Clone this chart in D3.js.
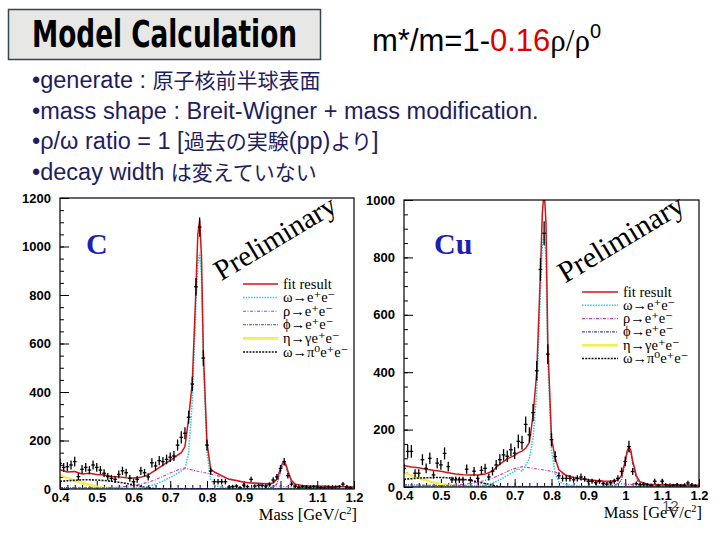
<!DOCTYPE html>
<html><head><meta charset="utf-8">
<script src="https://cdn.jsdelivr.net/npm/d3@7"></script>
<style>body{margin:0;background:#fff} svg{display:block}</style>
</head><body><svg id="c" width="720" height="540"></svg>
<script>
// ---------- data ----------
const massBins = [0.40,0.41,0.42,0.43,0.44,0.45,0.46,0.47,0.48,0.49,
 0.50,0.51,0.52,0.53,0.54,0.55,0.56,0.57,0.58,0.59,
 0.60,0.61,0.62,0.63,0.64,0.65,0.66,0.67,0.68,0.69,
 0.70,0.71,0.72,0.73,0.74,0.75,0.76,0.77,0.78,0.79,
 0.80,0.81,0.82,0.83,0.84,0.85,0.86,0.87,0.88,0.89,
 0.90,0.91,0.92,0.93,0.94,0.95,0.96,0.97,0.98,0.99,
 1.00,1.01,1.02,1.03,1.04,1.05,1.06,1.07,1.08,1.09,
 1.10,1.11,1.12,1.13,1.14,1.15,1.16,1.17,1.18,1.19];

const dataC = [106,89,92,99,113,51,81,89,78,99,
 89,78,65,51,44,40,60,75,67,44,
 30,40,75,67,50,108,95,117,113,122,
 131,136,181,213,230,296,433,834,1080,540,
 181,74,30,30,30,30,8,10,12,5,
 16,10,40,12,15,14,12,18,37,50,
 85,113,55,20,12,8,10,8,6,10,
 8,6,5,8,6,8,10,20,8,5];
const errC = [20,18,18,19,20,15,18,18,17,19,
 18,17,16,15,14,14,16,17,16,14,
 13,14,17,16,15,19,18,19,19,20,
 20,21,23,25,25,27,30,36,40,32,
 22,15,11,11,11,11,8,8,8,7,
 9,8,11,8,8,8,8,9,11,12,
 14,15,12,9,8,7,7,7,6,7,
 7,6,6,7,6,7,7,9,7,6];

const dataCu = [65,124,124,48,48,95,65,100,42,83,
 77,117,71,25,25,25,25,62,25,55,
 30,58,65,35,55,77,95,112,107,130,
 118,159,155,218,182,259,405,758,884,463,
 165,106,39,30,30,30,25,30,35,28,
 20,20,15,20,12,10,15,20,30,54,
 89,141,54,12,8,10,8,6,20,6,
 20,8,5,6,8,5,6,14,7,5];
const errCu = [17,22,22,14,14,19,17,20,13,18,
 17,21,17,11,11,11,11,16,11,15,
 12,15,16,12,15,17,19,20,20,22,
 21,24,24,28,26,30,34,40,42,34,
 24,19,12,11,11,11,10,11,12,10,
 9,9,8,9,7,7,8,9,11,14,
 17,20,12,7,6,7,6,5,9,5,
 9,6,5,5,6,5,5,8,6,5];

const fitMass = [0.40,0.42,0.44,0.46,0.48,0.50,0.52,0.54,0.56,0.58,0.60,0.62,0.64,0.66,0.68,0.70,
 0.71,0.72,0.73,0.74,0.75,0.76,0.77,
 0.775,0.78,0.785,0.79,
 0.80,0.81,0.82,
 0.84,0.86,0.88,0.90,0.92,0.94,0.96,0.98,
 0.99,1.00,1.005,1.01,1.015,1.02,1.03,1.04,
 1.06,1.08,1.10,1.12,1.14,1.16,1.18,1.20];

const fitC = [80,70,72,62,65,60,58,52,50,46,45,48,58,78,98,118,
 128,140,150,175,290,440,830,
 1050,1109,960,570,
 190,82,70,
 55,40,35,28,25,24,22,25,
 40,85,105,113,100,75,35,20,
 14,12,12,11,10,10,9,8];
const omegaC = [0,0,0,0,0,0,0,0,1,2,3,5,10,20,33,48,
 56,65,75,85,150,360,760,
 930,975,880,520,
 150,40,15,
 7,4,3,2,2,1,1,1,
 1,1,1,1,1,1,0,0,
 0,0,0,0,0,0,0,0];
const rhoC = [2,2,2,3,3,4,5,6,8,11,15,20,28,38,52,66,
 72,78,83,86,82,78,75,
 73,72,70,68,
 65,62,58,
 50,42,35,29,24,20,16,13,
 12,11,10,10,9,9,8,7,
 6,5,4,4,3,3,2,2];
const phiC = [6,6,5,5,5,4,4,4,3,3,3,3,2,2,2,2,
 2,2,2,2,2,2,2,
 2,2,2,2,
 2,2,2,
 2,2,2,2,2,3,4,8,
 20,70,95,105,92,65,25,8,
 3,2,1,1,1,1,1,1];
const etaC = [58,45,34,25,17,10,5,2,0,0,0,0,0,0,0,0,
 0,0,0,0,0,0,0,
 0,0,0,0,
 0,0,0,
 0,0,0,0,0,0,0,0,
 0,0,0,0,0,0,0,0,
 0,0,0,0,0,0,0,0];
const dalitzC = [32,34,36,38,38,37,35,32,28,23,17,11,5,1,0,0,
 0,0,0,0,0,0,0,
 0,0,0,0,
 0,0,0,
 0,0,0,0,0,0,0,0,
 0,0,0,0,0,0,0,0,
 0,0,0,0,0,0,0,0];

const fitCu = [75,70,67,62,58,55,50,45,43,42,42,45,55,80,98,110,
 120,125,135,155,250,400,750,
 950,1040,920,500,
 170,100,60,
 40,33,28,25,23,21,20,24,
 40,90,125,140,128,92,40,18,
 10,9,8,8,7,7,6,6];
const omegaCu = [0,0,0,0,0,0,0,0,1,2,4,7,14,25,40,55,
 64,55,75,100,170,330,680,
 840,885,800,440,
 130,45,18,
 8,5,3,2,2,1,1,1,
 1,1,1,1,1,1,0,0,
 0,0,0,0,0,0,0,0];
const rhoCu = [3,3,3,4,4,5,6,7,9,12,17,23,31,42,54,64,
 68,70,69,67,65,63,61,
 60,59,58,57,
 54,51,48,
 42,36,30,25,21,17,14,12,
 11,10,10,9,9,8,8,7,
 6,5,4,4,3,3,2,2];
const phiCu = [8,7,7,6,6,5,5,4,4,3,3,3,2,2,2,2,
 2,2,2,2,2,2,2,
 2,2,2,2,
 2,2,2,
 2,2,2,2,2,3,4,9,
 25,85,118,130,118,82,30,9,
 3,2,1,1,1,1,1,1];
const etaCu = [50,40,31,23,16,10,5,2,0,0,0,0,0,0,0,0,
 0,0,0,0,0,0,0,
 0,0,0,0,
 0,0,0,
 0,0,0,0,0,0,0,0,
 0,0,0,0,0,0,0,0,
 0,0,0,0,0,0,0,0];
const dalitzCu = [27,29,31,32,33,33,32,30,27,23,18,12,6,1,0,0,
 0,0,0,0,0,0,0,
 0,0,0,0,
 0,0,0,
 0,0,0,0,0,0,0,0,
 0,0,0,0,0,0,0,0,
 0,0,0,0,0,0,0,0];

const xTicks = [0.4,0.5,0.6,0.7,0.8,0.9,1.0,1.1,1.2];
const xTickLabels = ["0.4","0.5","0.6","0.7","0.8","0.9","1","1.1","1.2"];
const yTicksC = [0,200,400,600,800,1000,1200];
const yTicksCu = [0,200,400,600,800,1000];

const bullets = [
  "•generate : 原子核前半球表面",
  "•mass shape : Breit-Wigner + mass modification.",
  "•ρ/ω ratio = 1 [過去の実験(pp)より]",
  "•decay width は変えていない"
];
const legendLabels = ["fit result","ω→e⁺e⁻","ρ→e⁺e⁻","ϕ→e⁺e⁻","η→γe⁺e⁻","ω→π⁰e⁺e⁻"];
const legendKeys = ["fit","omega","rho","phi","eta","dalitz"];

// ---------- drawing ----------
const svg = d3.select("#c");
const SERIF = "'Liberation Serif','DejaVu Serif',serif";
const SANS = "'Liberation Sans',Arial,sans-serif";

// title box
svg.append("rect").attr("x",8.5).attr("y",9.5).attr("width",312).attr("height",50)
  .attr("fill","#e7e7e5").attr("stroke","#34465a").attr("stroke-width",1.5);
svg.append("text").attr("x",32).attr("y",47)
  .attr("font-family","'DejaVu Sans Condensed','DejaVu Sans',sans-serif")
  .attr("font-weight","bold").attr("font-size",37)
  .attr("textLength",265).attr("lengthAdjust","spacingAndGlyphs")
  .attr("fill","#000").text("Model Calculation");

const f = svg.append("text").attr("x",372).attr("y",51).attr("font-family",SANS).attr("font-size",31).attr("fill","#000");
f.append("tspan").text("m*/m=1-");
f.append("tspan").attr("fill","#dd0000").text("0.16");
f.append("tspan").attr("font-family",SERIF).text("ρ/ρ");
f.append("tspan").attr("font-size",20).attr("dy",-13).text("0");

// bullets: Latin runs slightly larger than CJK runs (as on the slide)
const cjk = /([\u3000-\u30ff\u4e00-\u9fff]+)/;
svg.append("g").selectAll("text").data(bullets).join("text")
  .attr("x",32).attr("y",(d,i)=>88+i*30.5)
  .attr("font-family","'Liberation Sans','Noto Sans CJK JP',sans-serif")
  .attr("fill","#1e1e5e")
  .each(function(d){
    const t = d3.select(this);
    d.split(cjk).filter(s=>s.length).forEach(s=>{
      const isCjk = cjk.test(s);
      t.append("tspan").attr("font-size",isCjk?21:23.5)
        .attr("font-family",isCjk?"'Noto Sans CJK JP',sans-serif":"'Liberation Sans',Arial,sans-serif")
        .text(s);
    });
  });

const styles = {
  eta:   {stroke:"#f2ee55", width:2.6, dash:null},
  dalitz:{stroke:"#111", width:1.6, dash:"2,1.2"},
  phi:   {stroke:"#4a4aa8", width:1.1, dash:"3,1,1,1"},
  rho:   {stroke:"#cc33cc", width:1.1, dash:"3,1.5,1,1.5"},
  omega: {stroke:"#2ccccc", width:1.5, dash:"1.5,1.2"},
  fit:   {stroke:"#d01515", width:1.5, dash:null}
};

function panel(p){
  const x = d3.scaleLinear().domain([0.4,1.2]).range([p.x0,p.x1]);
  const y = d3.scaleLinear().domain([0,p.yMax]).range([p.y1,p.y0]);
  const g = svg.append("g");
  svg.append("clipPath").attr("id","clip"+p.id).append("rect")
    .attr("x",p.x0).attr("y",p.y0).attr("width",p.x1-p.x0).attr("height",p.y1-p.y0);

  const xa = g.append("g").attr("transform",`translate(0,${p.y1})`)
    .call(d3.axisBottom(x).tickValues(xTicks).tickSizeInner(-8).tickSizeOuter(0).tickPadding(4)
      .tickFormat((d,i)=>xTickLabels[i]));
  const xm = g.append("g").attr("transform",`translate(0,${p.y1})`)
    .call(d3.axisBottom(x).ticks(40).tickSizeInner(-4).tickSizeOuter(0).tickFormat(""));
  const ya = g.append("g").attr("transform",`translate(${p.x0},0)`)
    .call(d3.axisLeft(y).tickValues(p.yTicks).tickSizeInner(-9).tickSizeOuter(0).tickPadding(9)
      .tickFormat(d3.format("d")));
  const ym = g.append("g").attr("transform",`translate(${p.x0},0)`)
    .call(d3.axisLeft(y).tickValues(d3.range(0,p.yMax+1,50)).tickSizeInner(-4).tickSizeOuter(0).tickFormat(""));
  [xa,xm,ya,ym].forEach(a=>{a.select(".domain").remove(); a.selectAll("line").attr("stroke","#000");});
  [xa,ya].forEach(a=>a.selectAll("text").attr("font-family",SANS).attr("font-weight","bold")
     .attr("font-size",13).attr("fill","#000"));

  const cg = g.append("g").attr("clip-path",`url(#clip${p.id})`);
  const line = d3.line().x(d=>x(d[0])).y(d=>y(d[1]));
  ["eta","dalitz","phi","rho","omega","fit"].forEach(k=>{
    const s = styles[k];
    cg.append("path").attr("d",line(fitMass.map((m,i)=>[m,p.curves[k][i]])))
      .attr("fill","none").attr("stroke",s.stroke).attr("stroke-width",s.width)
      .attr("stroke-dasharray",s.dash);
  });
  const dg = cg.append("g").attr("stroke","#000").attr("stroke-width",1.3);
  massBins.forEach((m,i)=>{
    const v = p.data[i], e = p.err[i];
    dg.append("line").attr("x1",x(m)).attr("x2",x(m)).attr("y1",y(v-e)).attr("y2",y(v+e));
    dg.append("line").attr("x1",x(m-0.005)).attr("x2",x(m+0.005)).attr("y1",y(v)).attr("y2",y(v));
  });

  g.append("rect").attr("x",p.x0).attr("y",p.y0).attr("width",p.x1-p.x0).attr("height",p.y1-p.y0)
    .attr("fill","none").attr("stroke","#000").attr("stroke-width",1.2);

  const at = g.append("text").attr("x",p.x1+3).attr("y",p.y1+31).attr("text-anchor","end")
    .attr("font-family",SERIF).attr("font-size",16.5).attr("fill","#000");
  at.append("tspan").text("Mass [GeV/c");
  at.append("tspan").attr("font-size",10.5).attr("dy",-6).text("2");
  at.append("tspan").attr("dy",6).text("]");

  g.append("text").attr("x",p.lx).attr("y",p.ly).attr("font-family",SERIF).attr("font-weight","bold")
    .attr("font-size",30).attr("fill","#1e1eb4").text(p.label);

  g.append("text").attr("transform",`translate(${p.px},${p.py}) rotate(-31)`).attr("text-anchor","middle")
    .attr("font-family",SERIF).attr("font-size",p.pfs).attr("fill","#000").text("Preliminary");

  legendKeys.forEach((k,i)=>{
    const yy = p.legY + i*p.legDy;
    const s = styles[k];
    g.append("line").attr("x1",p.legX0).attr("x2",p.legX1).attr("y1",yy).attr("y2",yy)
      .attr("stroke",s.stroke).attr("stroke-width",s.width).attr("stroke-dasharray",s.dash);
    g.append("text").attr("x",p.legX1+5).attr("y",yy+4.5)
      .attr("font-family",SERIF).attr("font-size",14.5).attr("fill","#000").text(legendLabels[i]);
  });
}

panel({id:"C", x0:60, x1:354, y0:198, y1:489, yMax:1200, yTicks:yTicksC,
  data:dataC, err:errC,
  curves:{fit:fitC, omega:omegaC, rho:rhoC, phi:phiC, eta:etaC, dalitz:dalitzC},
  label:"C", lx:86, ly:254, px:280, py:246, pfs:29,
  legX0:243, legX1:278, legY:284, legDy:13.6});

panel({id:"Cu", x0:404, x1:699, y0:200, y1:487, yMax:1000, yTicks:yTicksCu,
  data:dataCu, err:errCu,
  curves:{fit:fitCu, omega:omegaCu, rho:rhoCu, phi:phiCu, eta:etaCu, dalitz:dalitzCu},
  label:"Cu", lx:434, ly:254, px:626, py:247, pfs:30,
  legX0:582, legX1:618, legY:292, legDy:13.3});

svg.append("text").attr("x",662).attr("y",511).attr("font-family",SANS).attr("font-size",15)
  .attr("fill","#555").text("12");
</script></body></html>
